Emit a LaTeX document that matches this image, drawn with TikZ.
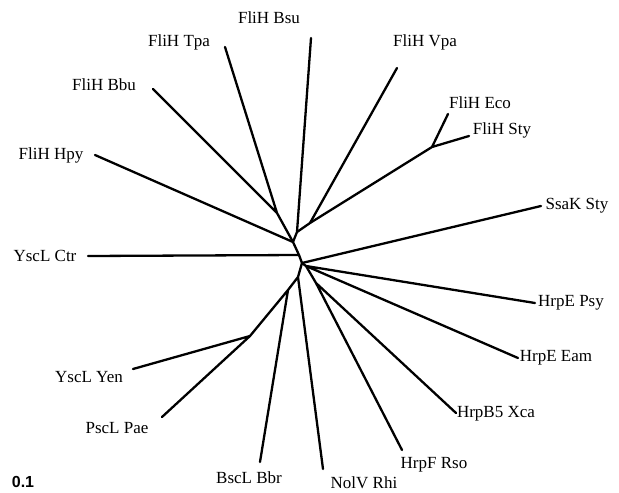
\documentclass[tikz,border=0pt]{standalone}
\usepackage{fontspec}
\setmainfont{Liberation Serif}
\newfontfamily\scalefont{Liberation Sans}
\begin{document}
\begin{tikzpicture}[x=1pt,y=-1pt,
  br/.style={line width=2.3pt,line cap=round,line join=round},
  lab/.style={inner sep=0pt,font=\fontsize{17}{20}\selectfont}]
\useasboundingbox (0,0) rectangle (619,493);
% labels
\node[lab] (tBsu) at (269,18) {FliH Bsu};
\node[lab] (tTpa) at (179,42) {FliH Tpa};
\node[lab] (tVpa) at (425,42) {FliH Vpa};
\node[lab] (tBbu) at (104,85) {FliH Bbu};
\node[lab] (tEco) at (480,103) {FliH Eco};
\node[lab] (tSty) at (502,130) {FliH Sty};
\node[lab] (tHpy) at (51,155) {FliH Hpy};
\node[lab] (tSsa) at (577,206) {SsaK Sty};
\node[lab] (tCtr) at (45,256) {YscL Ctr};
\node[lab] (tPsy) at (571,303) {HrpE Psy};
\node[lab] (tEam) at (556,358) {HrpE Eam};
\node[lab] (tYen) at (89,377) {YscL Yen};
\node[lab] (tXca) at (496,414) {HrpB5 Xca};
\node[lab] (tPae) at (117,428) {PscL Pae};
\node[lab] (tRso) at (434,465) {HrpF Rso};
\node[lab] (tBbr) at (249,478) {BscL Bbr};
\node[lab] (tRhi) at (364,483) {NolV Rhi};
\node[inner sep=0pt,font=\scalefont\bfseries\fontsize{16}{19}\selectfont] (scale) at (23,482) {0.1};
% leaf ends
\coordinate (Bsu) at (311,38);
\coordinate (Tpa) at (225,47);
\coordinate (Vpa) at (397,68);
\coordinate (Bbu) at (153,89);
\coordinate (Eco) at (448,114);
\coordinate (Sty) at (469,136);
\coordinate (Hpy) at (95,155);
\coordinate (Ssa) at (541,206);
\coordinate (Ctr) at (88,256);
\coordinate (Psy) at (535,303);
\coordinate (Eam) at (518,358);
\coordinate (Yen) at (133,369);
\coordinate (Xca) at (456,413);
\coordinate (Pae) at (162,417);
\coordinate (Rso) at (402,450);
\coordinate (Bbr) at (260,462);
\coordinate (Rhi) at (323,469);
% internal nodes
\coordinate (TB) at (277,213);
\coordinate (ES) at (432,147);
\coordinate (VE) at (310,223);
\coordinate (A) at (297,232);
\coordinate (B) at (293,242);
\coordinate (C) at (299,255);
\coordinate (H) at (302,263);
\coordinate (J1) at (306,266);
\coordinate (J2) at (316,283);
\coordinate (J3) at (298,277);
\coordinate (J4) at (288,290);
\coordinate (J5) at (250,336);
% branches
\draw[br] (Tpa) -- (TB) (Bbu) -- (TB) (TB) -- (B);
\draw[br] (Eco) -- (ES) (Sty) -- (ES) (ES) -- (VE);
\draw[br] (Vpa) -- (VE) -- (A);
\draw[br] (Bsu) -- (A) -- (B);
\draw[br] (Hpy) -- (B);
\draw[br] (B) -- (C) -- (H);
\draw[br] (Ctr) -- (C);
\draw[br] (H) -- (Ssa);
\draw[br] (H) -- (J1) (J1) -- (Psy) (J1) -- (Eam);
\draw[br] (J1) -- (J2) (J2) -- (Xca) (J2) -- (Rso);
\draw[br] (H) -- (J3) (J3) -- (Rhi) (J3) -- (J4) (J4) -- (Bbr) (J4) -- (J5);
\draw[br] (J5) -- (Yen) (J5) -- (Pae);
\end{tikzpicture}
\end{document}
